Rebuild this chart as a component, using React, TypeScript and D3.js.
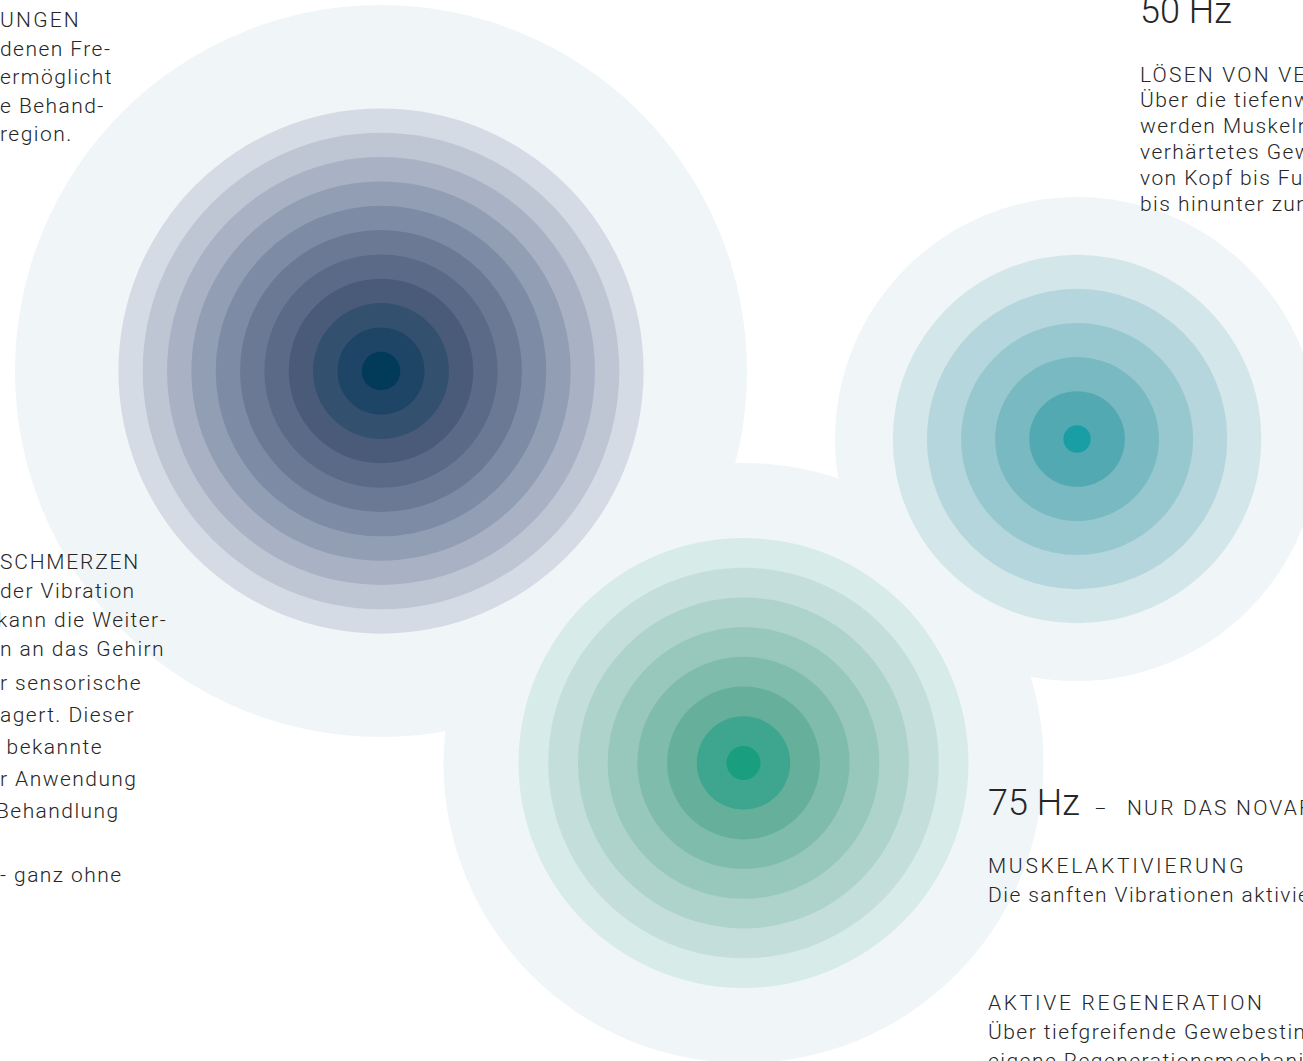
import { useEffect, useRef } from "react";
import * as d3 from "d3";

const WIDTH = 1303;
const HEIGHT = 1061;

// three vibration fields: name, position (in % of the page) and number of rings
const fieldNames = ["tief", "50 Hz", "75 Hz"];
const fieldX = [29.24, 82.66, 57.06];
const fieldY = [34.97, 41.38, 71.91];
const fieldRings = [11, 6, 8];

// ring palettes, outermost -> innermost
const fieldColors = [
  ["#d5dbe5", "#bec6d4", "#a8b2c4", "#929eb4", "#7e8ba4", "#6b7995", "#5a6a87", "#4a5b7a", "#34506f", "#1e4466", "#023a5a"],
  ["#d3e6ea", "#b4d6dc", "#98c8cf", "#79b9c1", "#52a9b2", "#1a9ea5"],
  ["#d7ebe8", "#c4dfdb", "#aed3cb", "#98c8bc", "#80bcac", "#66b09b", "#3ea68e", "#1a9e80"],
];
// inner / outer ring radius and halo radius for each field
const fieldInner = [19.3, 13.7, 17];
const fieldOuter = [262.6, 184.3, 225];
const fieldHalo = [366, 242, 300];

const topLeftLines = ["UNGEN", "denen Fre-", "ermöglicht", "e Behand-", "region."];
const midLeftHead = "SCHMERZEN";
const midLeftA = ["der Vibration", "kann die Weiter-", "n an das Gehirn"];
const midLeftB = ["r sensorische", "agert. Dieser", " bekannte", "r Anwendung", "Behandlung", "", "- ganz ohne"];
const topRightHz = "50 Hz";
const topRightHead = "LÖSEN VON VERSPANNUNGEN";
const topRightLines = ["Über die tiefenwirksame", "werden Muskeln und", "verhärtetes Gewebe", "von Kopf bis Fuß", "bis hinunter zum"];
const bottomRightHz = "75 Hz";
const bottomRightTag = "NUR DAS NOVAFON";
const bottomRightBlocks = [
  { head: "MUSKELAKTIVIERUNG", lines: ["Die sanften Vibrationen aktivieren"] },
  { head: "AKTIVE REGENERATION", lines: ["Über tiefgreifende Gewebestimulation", "eigene Regenerationsmechanismen"] },
];

const FONT = "Roboto, 'Open Sans', sans-serif";
const INK = "#262626";
const SIZE = 21;
const HEAD_LS = 2.2;
const BODY_LS = 1.45;

export default function App() {
  const svgRef = useRef<SVGSVGElement | null>(null);

  useEffect(() => {
    if (!svgRef.current) return;
    const svg = d3.select(svgRef.current);
    svg.selectAll("*").remove();

    const x = d3.scaleLinear().domain([0, 100]).range([0, WIDTH]);
    const y = d3.scaleLinear().domain([0, 100]).range([0, HEIGHT]);

    const fields = fieldNames.map((name, i) => ({
      name,
      cx: x(fieldX[i]),
      cy: y(fieldY[i]),
      rings: fieldRings[i],
      r: d3.scaleLinear().domain([fieldRings[i] - 1, 0]).range([fieldInner[i], fieldOuter[i]]),
      colors: fieldColors[i],
      halo: fieldHalo[i],
    }));

    // pale halos first
    svg
      .append("g")
      .selectAll("circle")
      .data(fields)
      .join("circle")
      .attr("cx", (d) => d.cx)
      .attr("cy", (d) => d.cy)
      .attr("r", (d) => d.halo)
      .attr("fill", "#f0f5f8");

    const rings = svg
      .append("g")
      .selectAll("g")
      .data(fields)
      .join("g");

    rings
      .selectAll("circle")
      .data((d) => d3.range(d.rings).map((k) => ({ f: d, k })))
      .join("circle")
      .attr("cx", (d) => d.f.cx)
      .attr("cy", (d) => d.f.cy)
      .attr("r", (d) => d.f.r(d.k))
      .attr("fill", (d) => d.f.colors[d.k]);

    // text
    const text = svg
      .append("g")
      .attr("font-family", FONT)
      .attr("font-weight", 300)
      .attr("fill", INK);

    const put = (s: string, tx: number, ty: number, size = SIZE, ls = BODY_LS) =>
      text
        .append("text")
        .attr("x", tx)
        .attr("y", ty)
        .attr("font-size", size)
        .attr("letter-spacing", ls)
        .attr("xml:space", "preserve")
        .style("white-space", "pre")
        .text(s);

    topLeftLines.forEach((s, i) =>
      i === 0 ? put(s, 0, 27, SIZE, HEAD_LS) : put(s, 0, 56 + (i - 1) * 28.4)
    );

    put(midLeftHead, 0, 569, SIZE, HEAD_LS - 0.4);
    midLeftA.forEach((s, i) => put(s, i === 1 ? -3 : 0, 598 + i * 29));
    midLeftB.forEach((s, i) => put(s, i === 4 ? -4 : 0, 690 + i * 32));

    put(topRightHz, 1140, 23, 36, 0);
    put(topRightHead, 1140, 82, SIZE, HEAD_LS);
    topRightLines.forEach((s, i) => put(s, 1140, 107 + i * 26));

    put(bottomRightHz, 988, 815, 36, 0);
    put("-", 1095, 815, SIZE, 0).attr("transform", "translate(1095,815) scale(1.8,1) translate(-1095,-815)");
    put(bottomRightTag, 1127, 815, SIZE, HEAD_LS);

    bottomRightBlocks.forEach((b, j) => {
      const base = j === 0 ? 873 : 1010;
      put(b.head, 988, base, SIZE, HEAD_LS + 0.5);
      b.lines.forEach((s, i) => put(s, 988, base + 29 + i * 29));
    });
  }, []);

  return (
    <svg
      ref={svgRef}
      width={WIDTH}
      height={HEIGHT}
      style={{ position: "absolute", left: 0, top: 0, background: "#ffffff" }}
    />
  );
}
